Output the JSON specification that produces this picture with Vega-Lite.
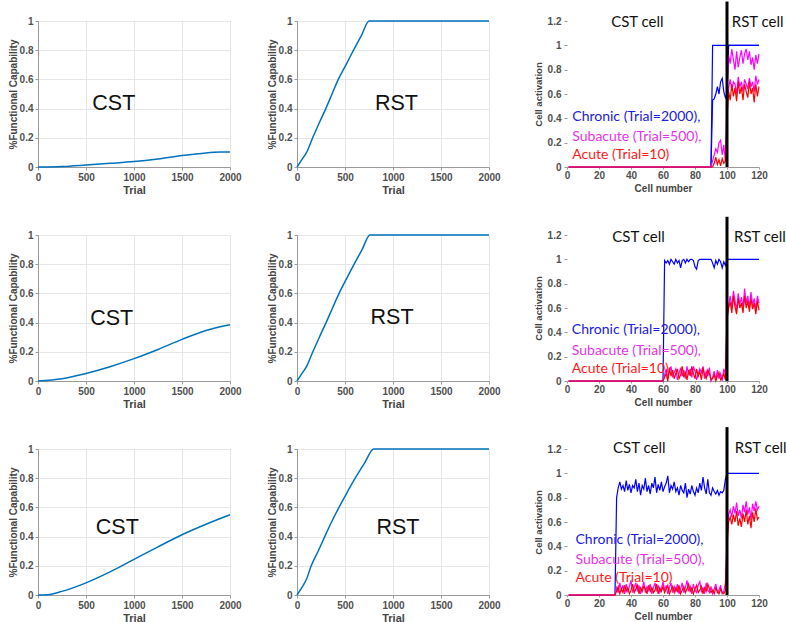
{
"$schema": "https://vega.github.io/schema/vega-lite/v6.json",
"padding": {"left": 7, "top": 0, "right": 5, "bottom": 5},
"background": "white",
"config": {
  "font": "Liberation Sans",
  "view": {"stroke": "#d4d4d4"},
  "axis": {"labelFont": "Liberation Sans", "labelFontWeight": "bold", "labelFontSize": 10, "labelColor": "#505050", "titleFont": "Liberation Sans", "titleFontWeight": "bold", "titleColor": "#444444", "domainColor": "#9a9a9a", "tickColor": "#9a9a9a", "tickSize": 3, "gridColor": "#e6e6e6", "labelPadding": 2, "labelOverlap": false, "labelFlush": false, "tickCount": 20}
},
"columns": 3,
"bounds": "flush",
"spacing": {"row": 68, "column": 67},
"datasets": {
"r1": [
{"s":"C","tr":"a","cell":1,"act":0},{"s":"C","tr":"a","cell":90,"act":0},{"s":"C","tr":"a","cell":91,"act":1},{"s":"C","tr":"a","cell":120,"act":1},
{"s":"C","tr":"b","cell":90,"act":0},{"s":"C","tr":"b","cell":91,"act":0.55},{"s":"C","tr":"b","cell":92,"act":0.56},{"s":"C","tr":"b","cell":93,"act":0.6},{"s":"C","tr":"b","cell":94,"act":0.66},{"s":"C","tr":"b","cell":95,"act":0.6},{"s":"C","tr":"b","cell":96,"act":0.7},{"s":"C","tr":"b","cell":97,"act":0.73},{"s":"C","tr":"b","cell":98,"act":0.62},{"s":"C","tr":"b","cell":99,"act":0.57},{"s":"C","tr":"b","cell":100,"act":0.6},{"s":"C","tr":"b","cell":101,"act":1},{"s":"C","tr":"b","cell":120,"act":1},
{"s":"S","tr":"a","cell":1,"act":0},{"s":"S","tr":"a","cell":90,"act":0},{"s":"S","tr":"a","cell":91,"act":0.05},{"s":"S","tr":"a","cell":92,"act":0.1},{"s":"S","tr":"a","cell":93,"act":0.15},{"s":"S","tr":"a","cell":94,"act":0.12},{"s":"S","tr":"a","cell":95,"act":0.2},{"s":"S","tr":"a","cell":96,"act":0.22},{"s":"S","tr":"a","cell":97,"act":0.1},{"s":"S","tr":"a","cell":98,"act":0.18},{"s":"S","tr":"a","cell":99,"act":0.05},{"s":"S","tr":"a","cell":100,"act":0.6},{"s":"S","tr":"a","cell":101,"act":0.92},{"s":"S","tr":"a","cell":102,"act":0.85},{"s":"S","tr":"a","cell":103,"act":0.97},{"s":"S","tr":"a","cell":104,"act":0.88},{"s":"S","tr":"a","cell":105,"act":0.8},{"s":"S","tr":"a","cell":106,"act":0.95},{"s":"S","tr":"a","cell":107,"act":0.82},{"s":"S","tr":"a","cell":108,"act":0.9},{"s":"S","tr":"a","cell":109,"act":0.96},{"s":"S","tr":"a","cell":110,"act":0.85},{"s":"S","tr":"a","cell":111,"act":0.93},{"s":"S","tr":"a","cell":112,"act":0.97},{"s":"S","tr":"a","cell":113,"act":0.88},{"s":"S","tr":"a","cell":114,"act":0.95},{"s":"S","tr":"a","cell":115,"act":0.84},{"s":"S","tr":"a","cell":116,"act":0.9},{"s":"S","tr":"a","cell":117,"act":0.8},{"s":"S","tr":"a","cell":118,"act":0.92},{"s":"S","tr":"a","cell":119,"act":0.85},{"s":"S","tr":"a","cell":120,"act":0.93},
{"s":"S","tr":"b","cell":100,"act":0.5},{"s":"S","tr":"b","cell":101,"act":0.65},{"s":"S","tr":"b","cell":102,"act":0.72},{"s":"S","tr":"b","cell":103,"act":0.63},{"s":"S","tr":"b","cell":104,"act":0.7},{"s":"S","tr":"b","cell":105,"act":0.68},{"s":"S","tr":"b","cell":106,"act":0.6},{"s":"S","tr":"b","cell":107,"act":0.74},{"s":"S","tr":"b","cell":108,"act":0.66},{"s":"S","tr":"b","cell":109,"act":0.7},{"s":"S","tr":"b","cell":110,"act":0.62},{"s":"S","tr":"b","cell":111,"act":0.72},{"s":"S","tr":"b","cell":112,"act":0.68},{"s":"S","tr":"b","cell":113,"act":0.64},{"s":"S","tr":"b","cell":114,"act":0.73},{"s":"S","tr":"b","cell":115,"act":0.66},{"s":"S","tr":"b","cell":116,"act":0.7},{"s":"S","tr":"b","cell":117,"act":0.62},{"s":"S","tr":"b","cell":118,"act":0.75},{"s":"S","tr":"b","cell":119,"act":0.68},{"s":"S","tr":"b","cell":120,"act":0.72},
{"s":"A","tr":"a","cell":1,"act":0},{"s":"A","tr":"a","cell":91,"act":0},{"s":"A","tr":"a","cell":92,"act":0.03},{"s":"A","tr":"a","cell":93,"act":0.08},{"s":"A","tr":"a","cell":94,"act":0.02},{"s":"A","tr":"a","cell":95,"act":0.06},{"s":"A","tr":"a","cell":96,"act":0.01},{"s":"A","tr":"a","cell":97,"act":0.07},{"s":"A","tr":"a","cell":98,"act":0.03},{"s":"A","tr":"a","cell":99,"act":0.05},{"s":"A","tr":"a","cell":100,"act":0.4},{"s":"A","tr":"a","cell":101,"act":0.62},{"s":"A","tr":"a","cell":102,"act":0.55},{"s":"A","tr":"a","cell":103,"act":0.68},{"s":"A","tr":"a","cell":104,"act":0.58},{"s":"A","tr":"a","cell":105,"act":0.65},{"s":"A","tr":"a","cell":106,"act":0.54},{"s":"A","tr":"a","cell":107,"act":0.7},{"s":"A","tr":"a","cell":108,"act":0.6},{"s":"A","tr":"a","cell":109,"act":0.66},{"s":"A","tr":"a","cell":110,"act":0.55},{"s":"A","tr":"a","cell":111,"act":0.68},{"s":"A","tr":"a","cell":112,"act":0.62},{"s":"A","tr":"a","cell":113,"act":0.57},{"s":"A","tr":"a","cell":114,"act":0.7},{"s":"A","tr":"a","cell":115,"act":0.6},{"s":"A","tr":"a","cell":116,"act":0.65},{"s":"A","tr":"a","cell":117,"act":0.53},{"s":"A","tr":"a","cell":118,"act":0.68},{"s":"A","tr":"a","cell":119,"act":0.58},{"s":"A","tr":"a","cell":120,"act":0.66}
],
"r2": [
{"s":"C","tr":"a","cell":1,"act":0},{"s":"C","tr":"a","cell":60,"act":0},{"s":"C","tr":"a","cell":61,"act":0.99},{"s":"C","tr":"a","cell":62,"act":0.97},{"s":"C","tr":"a","cell":63,"act":0.99},{"s":"C","tr":"a","cell":64,"act":0.96},{"s":"C","tr":"a","cell":65,"act":1},{"s":"C","tr":"a","cell":66,"act":0.98},{"s":"C","tr":"a","cell":67,"act":0.96},{"s":"C","tr":"a","cell":68,"act":1},{"s":"C","tr":"a","cell":69,"act":0.97},{"s":"C","tr":"a","cell":70,"act":0.99},{"s":"C","tr":"a","cell":71,"act":0.93},{"s":"C","tr":"a","cell":72,"act":0.99},{"s":"C","tr":"a","cell":73,"act":1},{"s":"C","tr":"a","cell":74,"act":0.97},{"s":"C","tr":"a","cell":75,"act":1},{"s":"C","tr":"a","cell":76,"act":0.98},{"s":"C","tr":"a","cell":77,"act":1},{"s":"C","tr":"a","cell":78,"act":1},{"s":"C","tr":"a","cell":79,"act":0.99},{"s":"C","tr":"a","cell":80,"act":0.94},{"s":"C","tr":"a","cell":81,"act":0.92},{"s":"C","tr":"a","cell":82,"act":0.99},{"s":"C","tr":"a","cell":83,"act":1},{"s":"C","tr":"a","cell":90,"act":1},{"s":"C","tr":"a","cell":91,"act":0.97},{"s":"C","tr":"a","cell":92,"act":0.93},{"s":"C","tr":"a","cell":93,"act":0.99},{"s":"C","tr":"a","cell":94,"act":0.96},{"s":"C","tr":"a","cell":95,"act":1},{"s":"C","tr":"a","cell":96,"act":0.98},{"s":"C","tr":"a","cell":97,"act":0.93},{"s":"C","tr":"a","cell":98,"act":0.98},{"s":"C","tr":"a","cell":99,"act":0.95},{"s":"C","tr":"a","cell":100,"act":1},{"s":"C","tr":"a","cell":120,"act":1},
{"s":"S","tr":"a","cell":1,"act":0},{"s":"S","tr":"a","cell":60,"act":0},{"s":"S","tr":"a","cell":61,"act":0.05},{"s":"S","tr":"a","cell":62,"act":0.1},{"s":"S","tr":"a","cell":63,"act":0.02},{"s":"S","tr":"a","cell":64,"act":0.08},{"s":"S","tr":"a","cell":65,"act":0.12},{"s":"S","tr":"a","cell":66,"act":0.03},{"s":"S","tr":"a","cell":67,"act":0.07},{"s":"S","tr":"a","cell":68,"act":0.1},{"s":"S","tr":"a","cell":69,"act":0.01},{"s":"S","tr":"a","cell":70,"act":0.06},{"s":"S","tr":"a","cell":71,"act":0.11},{"s":"S","tr":"a","cell":72,"act":0.04},{"s":"S","tr":"a","cell":73,"act":0.09},{"s":"S","tr":"a","cell":74,"act":0.02},{"s":"S","tr":"a","cell":75,"act":0.12},{"s":"S","tr":"a","cell":76,"act":0.06},{"s":"S","tr":"a","cell":77,"act":0.1},{"s":"S","tr":"a","cell":78,"act":0.03},{"s":"S","tr":"a","cell":79,"act":0.12},{"s":"S","tr":"a","cell":80,"act":0.08},{"s":"S","tr":"a","cell":81,"act":0.01},{"s":"S","tr":"a","cell":82,"act":0.05},{"s":"S","tr":"a","cell":83,"act":0.1},{"s":"S","tr":"a","cell":84,"act":0.07},{"s":"S","tr":"a","cell":85,"act":0.12},{"s":"S","tr":"a","cell":86,"act":0.02},{"s":"S","tr":"a","cell":87,"act":0.08},{"s":"S","tr":"a","cell":88,"act":0.04},{"s":"S","tr":"a","cell":89,"act":0.11},{"s":"S","tr":"a","cell":90,"act":0},{"s":"S","tr":"a","cell":91,"act":0.03},{"s":"S","tr":"a","cell":92,"act":0.08},{"s":"S","tr":"a","cell":93,"act":0.01},{"s":"S","tr":"a","cell":94,"act":0.09},{"s":"S","tr":"a","cell":95,"act":0.02},{"s":"S","tr":"a","cell":96,"act":0.06},{"s":"S","tr":"a","cell":97,"act":0},{"s":"S","tr":"a","cell":98,"act":0.1},{"s":"S","tr":"a","cell":99,"act":0.05},{"s":"S","tr":"a","cell":100,"act":0.55},{"s":"S","tr":"a","cell":101,"act":0.62},{"s":"S","tr":"a","cell":102,"act":0.7},{"s":"S","tr":"a","cell":103,"act":0.6},{"s":"S","tr":"a","cell":104,"act":0.74},{"s":"S","tr":"a","cell":105,"act":0.66},{"s":"S","tr":"a","cell":106,"act":0.58},{"s":"S","tr":"a","cell":107,"act":0.72},{"s":"S","tr":"a","cell":108,"act":0.63},{"s":"S","tr":"a","cell":109,"act":0.69},{"s":"S","tr":"a","cell":110,"act":0.6},{"s":"S","tr":"a","cell":111,"act":0.76},{"s":"S","tr":"a","cell":112,"act":0.64},{"s":"S","tr":"a","cell":113,"act":0.7},{"s":"S","tr":"a","cell":114,"act":0.6},{"s":"S","tr":"a","cell":115,"act":0.73},{"s":"S","tr":"a","cell":116,"act":0.62},{"s":"S","tr":"a","cell":117,"act":0.68},{"s":"S","tr":"a","cell":118,"act":0.58},{"s":"S","tr":"a","cell":119,"act":0.7},{"s":"S","tr":"a","cell":120,"act":0.64},
{"s":"A","tr":"a","cell":1,"act":0},{"s":"A","tr":"a","cell":60,"act":0},{"s":"A","tr":"a","cell":61,"act":0.03},{"s":"A","tr":"a","cell":62,"act":0.06},{"s":"A","tr":"a","cell":63,"act":0},{"s":"A","tr":"a","cell":64,"act":0.11},{"s":"A","tr":"a","cell":65,"act":0.04},{"s":"A","tr":"a","cell":66,"act":0.09},{"s":"A","tr":"a","cell":67,"act":0.02},{"s":"A","tr":"a","cell":68,"act":0.06},{"s":"A","tr":"a","cell":69,"act":0.1},{"s":"A","tr":"a","cell":70,"act":0.02},{"s":"A","tr":"a","cell":71,"act":0.05},{"s":"A","tr":"a","cell":72,"act":0.12},{"s":"A","tr":"a","cell":73,"act":0.03},{"s":"A","tr":"a","cell":74,"act":0.07},{"s":"A","tr":"a","cell":75,"act":0.01},{"s":"A","tr":"a","cell":76,"act":0.09},{"s":"A","tr":"a","cell":77,"act":0.04},{"s":"A","tr":"a","cell":78,"act":0.12},{"s":"A","tr":"a","cell":79,"act":0.06},{"s":"A","tr":"a","cell":80,"act":0.02},{"s":"A","tr":"a","cell":81,"act":0.1},{"s":"A","tr":"a","cell":82,"act":0.04},{"s":"A","tr":"a","cell":83,"act":0.08},{"s":"A","tr":"a","cell":84,"act":0.01},{"s":"A","tr":"a","cell":85,"act":0.11},{"s":"A","tr":"a","cell":86,"act":0.05},{"s":"A","tr":"a","cell":87,"act":0.02},{"s":"A","tr":"a","cell":88,"act":0.09},{"s":"A","tr":"a","cell":89,"act":0.06},{"s":"A","tr":"a","cell":90,"act":0.01},{"s":"A","tr":"a","cell":91,"act":0.02},{"s":"A","tr":"a","cell":92,"act":0.05},{"s":"A","tr":"a","cell":93,"act":0},{"s":"A","tr":"a","cell":94,"act":0.04},{"s":"A","tr":"a","cell":95,"act":0.07},{"s":"A","tr":"a","cell":96,"act":0.01},{"s":"A","tr":"a","cell":97,"act":0.03},{"s":"A","tr":"a","cell":98,"act":0.06},{"s":"A","tr":"a","cell":99,"act":0.01},{"s":"A","tr":"a","cell":100,"act":0.5},{"s":"A","tr":"a","cell":101,"act":0.6},{"s":"A","tr":"a","cell":102,"act":0.65},{"s":"A","tr":"a","cell":103,"act":0.56},{"s":"A","tr":"a","cell":104,"act":0.7},{"s":"A","tr":"a","cell":105,"act":0.61},{"s":"A","tr":"a","cell":106,"act":0.55},{"s":"A","tr":"a","cell":107,"act":0.68},{"s":"A","tr":"a","cell":108,"act":0.6},{"s":"A","tr":"a","cell":109,"act":0.64},{"s":"A","tr":"a","cell":110,"act":0.56},{"s":"A","tr":"a","cell":111,"act":0.7},{"s":"A","tr":"a","cell":112,"act":0.6},{"s":"A","tr":"a","cell":113,"act":0.66},{"s":"A","tr":"a","cell":114,"act":0.57},{"s":"A","tr":"a","cell":115,"act":0.68},{"s":"A","tr":"a","cell":116,"act":0.59},{"s":"A","tr":"a","cell":117,"act":0.64},{"s":"A","tr":"a","cell":118,"act":0.55},{"s":"A","tr":"a","cell":119,"act":0.66},{"s":"A","tr":"a","cell":120,"act":0.58}
],
"r3": [
{"s":"C","tr":"a","cell":1,"act":0},{"s":"C","tr":"a","cell":30,"act":0},{"s":"C","tr":"a","cell":31,"act":0.8},{"s":"C","tr":"a","cell":32,"act":0.88},{"s":"C","tr":"a","cell":33,"act":0.93},{"s":"C","tr":"a","cell":34,"act":0.87},{"s":"C","tr":"a","cell":35,"act":0.9},{"s":"C","tr":"a","cell":36,"act":0.85},{"s":"C","tr":"a","cell":37,"act":0.94},{"s":"C","tr":"a","cell":38,"act":0.86},{"s":"C","tr":"a","cell":39,"act":0.91},{"s":"C","tr":"a","cell":40,"act":0.84},{"s":"C","tr":"a","cell":41,"act":0.9},{"s":"C","tr":"a","cell":42,"act":0.88},{"s":"C","tr":"a","cell":43,"act":0.95},{"s":"C","tr":"a","cell":44,"act":0.85},{"s":"C","tr":"a","cell":45,"act":0.92},{"s":"C","tr":"a","cell":46,"act":0.82},{"s":"C","tr":"a","cell":47,"act":0.9},{"s":"C","tr":"a","cell":48,"act":0.87},{"s":"C","tr":"a","cell":49,"act":0.96},{"s":"C","tr":"a","cell":50,"act":0.85},{"s":"C","tr":"a","cell":51,"act":0.9},{"s":"C","tr":"a","cell":52,"act":0.83},{"s":"C","tr":"a","cell":53,"act":0.92},{"s":"C","tr":"a","cell":54,"act":0.88},{"s":"C","tr":"a","cell":55,"act":0.97},{"s":"C","tr":"a","cell":56,"act":0.84},{"s":"C","tr":"a","cell":57,"act":0.91},{"s":"C","tr":"a","cell":58,"act":0.86},{"s":"C","tr":"a","cell":59,"act":0.93},{"s":"C","tr":"a","cell":60,"act":0.85},{"s":"C","tr":"a","cell":61,"act":0.89},{"s":"C","tr":"a","cell":62,"act":0.92},{"s":"C","tr":"a","cell":63,"act":0.98},{"s":"C","tr":"a","cell":64,"act":0.84},{"s":"C","tr":"a","cell":65,"act":0.9},{"s":"C","tr":"a","cell":66,"act":0.87},{"s":"C","tr":"a","cell":67,"act":0.93},{"s":"C","tr":"a","cell":68,"act":0.85},{"s":"C","tr":"a","cell":69,"act":0.88},{"s":"C","tr":"a","cell":70,"act":0.82},{"s":"C","tr":"a","cell":71,"act":0.9},{"s":"C","tr":"a","cell":72,"act":0.86},{"s":"C","tr":"a","cell":73,"act":0.84},{"s":"C","tr":"a","cell":74,"act":0.92},{"s":"C","tr":"a","cell":75,"act":0.8},{"s":"C","tr":"a","cell":76,"act":0.87},{"s":"C","tr":"a","cell":77,"act":0.83},{"s":"C","tr":"a","cell":78,"act":0.9},{"s":"C","tr":"a","cell":79,"act":0.85},{"s":"C","tr":"a","cell":80,"act":0.82},{"s":"C","tr":"a","cell":81,"act":0.88},{"s":"C","tr":"a","cell":82,"act":0.84},{"s":"C","tr":"a","cell":83,"act":0.92},{"s":"C","tr":"a","cell":84,"act":0.86},{"s":"C","tr":"a","cell":85,"act":0.97},{"s":"C","tr":"a","cell":86,"act":0.88},{"s":"C","tr":"a","cell":87,"act":0.83},{"s":"C","tr":"a","cell":88,"act":0.95},{"s":"C","tr":"a","cell":89,"act":0.84},{"s":"C","tr":"a","cell":90,"act":0.82},{"s":"C","tr":"a","cell":91,"act":0.88},{"s":"C","tr":"a","cell":92,"act":0.85},{"s":"C","tr":"a","cell":93,"act":0.83},{"s":"C","tr":"a","cell":94,"act":0.86},{"s":"C","tr":"a","cell":95,"act":0.82},{"s":"C","tr":"a","cell":96,"act":0.85},{"s":"C","tr":"a","cell":97,"act":0.84},{"s":"C","tr":"a","cell":98,"act":0.86},{"s":"C","tr":"a","cell":99,"act":0.95},{"s":"C","tr":"a","cell":100,"act":1},{"s":"C","tr":"a","cell":120,"act":1},
{"s":"S","tr":"a","cell":1,"act":0},{"s":"S","tr":"a","cell":30,"act":0},{"s":"S","tr":"a","cell":31,"act":0.06},{"s":"S","tr":"a","cell":32,"act":0.02},{"s":"S","tr":"a","cell":33,"act":0.1},{"s":"S","tr":"a","cell":34,"act":0.04},{"s":"S","tr":"a","cell":35,"act":0.08},{"s":"S","tr":"a","cell":36,"act":0.01},{"s":"S","tr":"a","cell":37,"act":0.09},{"s":"S","tr":"a","cell":38,"act":0.03},{"s":"S","tr":"a","cell":39,"act":0.07},{"s":"S","tr":"a","cell":40,"act":0.12},{"s":"S","tr":"a","cell":41,"act":0.02},{"s":"S","tr":"a","cell":42,"act":0.06},{"s":"S","tr":"a","cell":43,"act":0.1},{"s":"S","tr":"a","cell":44,"act":0.03},{"s":"S","tr":"a","cell":45,"act":0.08},{"s":"S","tr":"a","cell":46,"act":0.01},{"s":"S","tr":"a","cell":47,"act":0.05},{"s":"S","tr":"a","cell":48,"act":0.11},{"s":"S","tr":"a","cell":49,"act":0.02},{"s":"S","tr":"a","cell":50,"act":0.07},{"s":"S","tr":"a","cell":51,"act":0.04},{"s":"S","tr":"a","cell":52,"act":0.09},{"s":"S","tr":"a","cell":53,"act":0.01},{"s":"S","tr":"a","cell":54,"act":0.06},{"s":"S","tr":"a","cell":55,"act":0.1},{"s":"S","tr":"a","cell":56,"act":0.03},{"s":"S","tr":"a","cell":57,"act":0.08},{"s":"S","tr":"a","cell":58,"act":0.02},{"s":"S","tr":"a","cell":59,"act":0.05},{"s":"S","tr":"a","cell":60,"act":0.11},{"s":"S","tr":"a","cell":61,"act":0.04},{"s":"S","tr":"a","cell":62,"act":0.08},{"s":"S","tr":"a","cell":63,"act":0.01},{"s":"S","tr":"a","cell":64,"act":0.06},{"s":"S","tr":"a","cell":65,"act":0.1},{"s":"S","tr":"a","cell":66,"act":0.02},{"s":"S","tr":"a","cell":67,"act":0.07},{"s":"S","tr":"a","cell":68,"act":0.03},{"s":"S","tr":"a","cell":69,"act":0.09},{"s":"S","tr":"a","cell":70,"act":0.01},{"s":"S","tr":"a","cell":71,"act":0.05},{"s":"S","tr":"a","cell":72,"act":0.1},{"s":"S","tr":"a","cell":73,"act":0.02},{"s":"S","tr":"a","cell":74,"act":0.06},{"s":"S","tr":"a","cell":75,"act":0.12},{"s":"S","tr":"a","cell":76,"act":0.03},{"s":"S","tr":"a","cell":77,"act":0.07},{"s":"S","tr":"a","cell":78,"act":0.01},{"s":"S","tr":"a","cell":79,"act":0.09},{"s":"S","tr":"a","cell":80,"act":0.04},{"s":"S","tr":"a","cell":81,"act":0.02},{"s":"S","tr":"a","cell":82,"act":0.08},{"s":"S","tr":"a","cell":83,"act":0.11},{"s":"S","tr":"a","cell":84,"act":0.03},{"s":"S","tr":"a","cell":85,"act":0.06},{"s":"S","tr":"a","cell":86,"act":0.01},{"s":"S","tr":"a","cell":87,"act":0.1},{"s":"S","tr":"a","cell":88,"act":0.04},{"s":"S","tr":"a","cell":89,"act":0.02},{"s":"S","tr":"a","cell":90,"act":0.07},{"s":"S","tr":"a","cell":91,"act":0.01},{"s":"S","tr":"a","cell":92,"act":0.05},{"s":"S","tr":"a","cell":93,"act":0.09},{"s":"S","tr":"a","cell":94,"act":0.02},{"s":"S","tr":"a","cell":95,"act":0.04},{"s":"S","tr":"a","cell":96,"act":0.08},{"s":"S","tr":"a","cell":97,"act":0.01},{"s":"S","tr":"a","cell":98,"act":0.03},{"s":"S","tr":"a","cell":99,"act":0.1},{"s":"S","tr":"a","cell":100,"act":0.45},{"s":"S","tr":"a","cell":101,"act":0.66},{"s":"S","tr":"a","cell":102,"act":0.7},{"s":"S","tr":"a","cell":103,"act":0.64},{"s":"S","tr":"a","cell":104,"act":0.73},{"s":"S","tr":"a","cell":105,"act":0.67},{"s":"S","tr":"a","cell":106,"act":0.76},{"s":"S","tr":"a","cell":107,"act":0.65},{"s":"S","tr":"a","cell":108,"act":0.7},{"s":"S","tr":"a","cell":109,"act":0.63},{"s":"S","tr":"a","cell":110,"act":0.74},{"s":"S","tr":"a","cell":111,"act":0.68},{"s":"S","tr":"a","cell":112,"act":0.77},{"s":"S","tr":"a","cell":113,"act":0.66},{"s":"S","tr":"a","cell":114,"act":0.72},{"s":"S","tr":"a","cell":115,"act":0.62},{"s":"S","tr":"a","cell":116,"act":0.75},{"s":"S","tr":"a","cell":117,"act":0.69},{"s":"S","tr":"a","cell":118,"act":0.77},{"s":"S","tr":"a","cell":119,"act":0.7},{"s":"S","tr":"a","cell":120,"act":0.73},
{"s":"A","tr":"a","cell":1,"act":0},{"s":"A","tr":"a","cell":30,"act":0},{"s":"A","tr":"a","cell":31,"act":0.03},{"s":"A","tr":"a","cell":32,"act":0.07},{"s":"A","tr":"a","cell":33,"act":0.01},{"s":"A","tr":"a","cell":34,"act":0.05},{"s":"A","tr":"a","cell":35,"act":0.02},{"s":"A","tr":"a","cell":36,"act":0.08},{"s":"A","tr":"a","cell":37,"act":0.03},{"s":"A","tr":"a","cell":38,"act":0.06},{"s":"A","tr":"a","cell":39,"act":0.01},{"s":"A","tr":"a","cell":40,"act":0.04},{"s":"A","tr":"a","cell":41,"act":0.09},{"s":"A","tr":"a","cell":42,"act":0.02},{"s":"A","tr":"a","cell":43,"act":0.05},{"s":"A","tr":"a","cell":44,"act":0.08},{"s":"A","tr":"a","cell":45,"act":0.01},{"s":"A","tr":"a","cell":46,"act":0.06},{"s":"A","tr":"a","cell":47,"act":0.03},{"s":"A","tr":"a","cell":48,"act":0.07},{"s":"A","tr":"a","cell":49,"act":0.05},{"s":"A","tr":"a","cell":50,"act":0.01},{"s":"A","tr":"a","cell":51,"act":0.08},{"s":"A","tr":"a","cell":52,"act":0.03},{"s":"A","tr":"a","cell":53,"act":0.06},{"s":"A","tr":"a","cell":54,"act":0.02},{"s":"A","tr":"a","cell":55,"act":0.04},{"s":"A","tr":"a","cell":56,"act":0.09},{"s":"A","tr":"a","cell":57,"act":0.01},{"s":"A","tr":"a","cell":58,"act":0.06},{"s":"A","tr":"a","cell":59,"act":0.03},{"s":"A","tr":"a","cell":60,"act":0.07},{"s":"A","tr":"a","cell":61,"act":0.02},{"s":"A","tr":"a","cell":62,"act":0.05},{"s":"A","tr":"a","cell":63,"act":0.08},{"s":"A","tr":"a","cell":64,"act":0.01},{"s":"A","tr":"a","cell":65,"act":0.04},{"s":"A","tr":"a","cell":66,"act":0.07},{"s":"A","tr":"a","cell":67,"act":0.02},{"s":"A","tr":"a","cell":68,"act":0.06},{"s":"A","tr":"a","cell":69,"act":0.03},{"s":"A","tr":"a","cell":70,"act":0.08},{"s":"A","tr":"a","cell":71,"act":0.01},{"s":"A","tr":"a","cell":72,"act":0.04},{"s":"A","tr":"a","cell":73,"act":0.07},{"s":"A","tr":"a","cell":74,"act":0.02},{"s":"A","tr":"a","cell":75,"act":0.05},{"s":"A","tr":"a","cell":76,"act":0.09},{"s":"A","tr":"a","cell":77,"act":0.03},{"s":"A","tr":"a","cell":78,"act":0.06},{"s":"A","tr":"a","cell":79,"act":0.01},{"s":"A","tr":"a","cell":80,"act":0.05},{"s":"A","tr":"a","cell":81,"act":0.08},{"s":"A","tr":"a","cell":82,"act":0.02},{"s":"A","tr":"a","cell":83,"act":0.04},{"s":"A","tr":"a","cell":84,"act":0.07},{"s":"A","tr":"a","cell":85,"act":0.01},{"s":"A","tr":"a","cell":86,"act":0.06},{"s":"A","tr":"a","cell":87,"act":0.03},{"s":"A","tr":"a","cell":88,"act":0.09},{"s":"A","tr":"a","cell":89,"act":0.05},{"s":"A","tr":"a","cell":90,"act":0.02},{"s":"A","tr":"a","cell":91,"act":0.04},{"s":"A","tr":"a","cell":92,"act":0.01},{"s":"A","tr":"a","cell":93,"act":0.06},{"s":"A","tr":"a","cell":94,"act":0.03},{"s":"A","tr":"a","cell":95,"act":0.01},{"s":"A","tr":"a","cell":96,"act":0.05},{"s":"A","tr":"a","cell":97,"act":0.02},{"s":"A","tr":"a","cell":98,"act":0.01},{"s":"A","tr":"a","cell":99,"act":0.04},{"s":"A","tr":"a","cell":100,"act":0.4},{"s":"A","tr":"a","cell":101,"act":0.6},{"s":"A","tr":"a","cell":102,"act":0.64},{"s":"A","tr":"a","cell":103,"act":0.58},{"s":"A","tr":"a","cell":104,"act":0.66},{"s":"A","tr":"a","cell":105,"act":0.6},{"s":"A","tr":"a","cell":106,"act":0.69},{"s":"A","tr":"a","cell":107,"act":0.57},{"s":"A","tr":"a","cell":108,"act":0.63},{"s":"A","tr":"a","cell":109,"act":0.56},{"s":"A","tr":"a","cell":110,"act":0.67},{"s":"A","tr":"a","cell":111,"act":0.6},{"s":"A","tr":"a","cell":112,"act":0.7},{"s":"A","tr":"a","cell":113,"act":0.58},{"s":"A","tr":"a","cell":114,"act":0.65},{"s":"A","tr":"a","cell":115,"act":0.55},{"s":"A","tr":"a","cell":116,"act":0.68},{"s":"A","tr":"a","cell":117,"act":0.6},{"s":"A","tr":"a","cell":118,"act":0.71},{"s":"A","tr":"a","cell":119,"act":0.62},{"s":"A","tr":"a","cell":120,"act":0.64}
]
},
"concat": [
{"width":192,"height":146,"layer":[
 {"data":{"values":[{"trial":0,"fc":0},{"trial":250,"fc":0.004},{"trial":500,"fc":0.014},{"trial":750,"fc":0.025},{"trial":1000,"fc":0.037},{"trial":1250,"fc":0.055},{"trial":1500,"fc":0.078},{"trial":1750,"fc":0.096},{"trial":1900,"fc":0.102},{"trial":2000,"fc":0.103}]},
  "mark":{"type":"line","color":"#0072BD","strokeWidth":1.5,"interpolate":"monotone"},
  "encoding":{"x":{"field":"trial","type":"quantitative","scale":{"domain":[0,2000]},"axis":{"title":"Trial","values":[0,500,1000,1500,2000],"format":"d","grid":true,"titleFontSize":11,"titlePadding":2}},
   "y":{"field":"fc","type":"quantitative","scale":{"domain":[0,1]},"axis":{"title":"%Functional Capability","values":[0,0.2,0.4,0.6,0.8,1],"format":"~g","grid":true,"titleFontSize":10,"titlePadding":1}}}},
 {"data":{"values":[{}]},"mark":{"type":"text","fontSize":21.5,"font":"Liberation Sans","color":"#111111"},"encoding":{"x":{"datum":790},"y":{"datum":0.43},"text":{"value":"CST"}}}
]},
{"width":192,"height":146,"layer":[
 {"data":{"values":[{"trial":0,"fc":0},{"trial":50,"fc":0.05},{"trial":100,"fc":0.1},{"trial":163,"fc":0.2},{"trial":230,"fc":0.3},{"trial":300,"fc":0.4},{"trial":365,"fc":0.5},{"trial":430,"fc":0.6},{"trial":510,"fc":0.7},{"trial":589,"fc":0.8},{"trial":670,"fc":0.9},{"trial":752,"fc":1},{"trial":2000,"fc":1}]},
  "mark":{"type":"line","color":"#0072BD","strokeWidth":1.5,"interpolate":"monotone"},
  "encoding":{"x":{"field":"trial","type":"quantitative","scale":{"domain":[0,2000]},"axis":{"title":"Trial","values":[0,500,1000,1500,2000],"format":"d","grid":true,"titleFontSize":11,"titlePadding":2}},
   "y":{"field":"fc","type":"quantitative","scale":{"domain":[0,1]},"axis":{"title":"%Functional Capability","values":[0,0.2,0.4,0.6,0.8,1],"format":"~g","grid":true,"titleFontSize":10,"titlePadding":1}}}},
 {"data":{"values":[{}]},"mark":{"type":"text","fontSize":21.5,"font":"Liberation Sans","color":"#111111"},"encoding":{"x":{"datum":1036},"y":{"datum":0.43},"text":{"value":"RST"}}}
]},
{"width":203,"height":146,"view":{"stroke":null},"layer":[
 {"data":{"name":"r1"},"transform":[{"filter":"datum.s == 'C'"}],"mark":{"type":"line","color":"#0000ff","strokeWidth":1.2},
  "encoding":{"x":{"field":"cell","type":"quantitative","scale":{"domain":[0,120],"range":[11,203]},"axis":{"title":"Cell number","values":[0,20,40,60,80,100,120],"grid":false,"domain":true,"titleFontSize":10,"titlePadding":3,"labelPadding":1,"tickSize":2}},
   "y":{"field":"act","type":"quantitative","scale":{"domain":[0,1.2]},"axis":{"title":"Cell activation","values":[0,0.2,0.4,0.6,0.8,1,1.2],"format":"~g","grid":false,"domain":false,"offset":-11,"titleFontSize":9.5,"titlePadding":4,"labelPadding":3}},
   "detail":{"field":"tr"}}},
 {"data":{"name":"r1"},"transform":[{"filter":"datum.s == 'S'"}],"mark":{"type":"line","color":"#ff00ff","strokeWidth":1.2},"encoding":{"x":{"field":"cell","type":"quantitative"},"y":{"field":"act","type":"quantitative"},"detail":{"field":"tr"}}},
 {"data":{"name":"r1"},"transform":[{"filter":"datum.s == 'A'"}],"mark":{"type":"line","color":"#ff0000","strokeWidth":1.2},"encoding":{"x":{"field":"cell","type":"quantitative"},"y":{"field":"act","type":"quantitative"},"detail":{"field":"tr"}}},
 {"data":{"values":[{}]},"mark":{"type":"rule","color":"#000000","strokeWidth":3},"encoding":{"x":{"datum":100},"y":{"datum":0},"y2":{"datum":1.36}}},
 {"data":{"values":[{}]},"mark":{"type":"text","font":"Lato","fontSize":15,"color":"#111111"},"encoding":{"x":{"datum":44},"y":{"datum":1.19},"text":{"value":"CST cell"}}},
 {"data":{"values":[{}]},"mark":{"type":"text","font":"Lato","fontSize":15,"color":"#111111","align":"left"},"encoding":{"x":{"datum":103},"y":{"datum":1.19},"text":{"value":"RST cell"}}},
 {"data":{"values":[{}]},"mark":{"type":"text","font":"Lato","fontSize":14,"color":"#2020e0","align":"left"},"encoding":{"x":{"datum":3.3},"y":{"datum":0.41},"text":{"value":"Chronic (Trial=2000),"}}},
 {"data":{"values":[{}]},"mark":{"type":"text","font":"Lato","fontSize":14,"color":"#e633e6","align":"left"},"encoding":{"x":{"datum":3.3},"y":{"datum":0.246},"text":{"value":"Subacute (Trial=500),"}}},
 {"data":{"values":[{}]},"mark":{"type":"text","font":"Lato","fontSize":14,"color":"#ff1a1a","align":"left"},"encoding":{"x":{"datum":3.3},"y":{"datum":0.1},"text":{"value":"Acute (Trial=10)"}}}
]},
{"width":192,"height":146,"layer":[
 {"data":{"values":[{"trial":0,"fc":0},{"trial":250,"fc":0.016},{"trial":500,"fc":0.052},{"trial":750,"fc":0.098},{"trial":1000,"fc":0.153},{"trial":1250,"fc":0.216},{"trial":1500,"fc":0.285},{"trial":1750,"fc":0.346},{"trial":2000,"fc":0.385}]},
  "mark":{"type":"line","color":"#0072BD","strokeWidth":1.5,"interpolate":"monotone"},
  "encoding":{"x":{"field":"trial","type":"quantitative","scale":{"domain":[0,2000]},"axis":{"title":"Trial","values":[0,500,1000,1500,2000],"format":"d","grid":true,"titleFontSize":11,"titlePadding":2}},
   "y":{"field":"fc","type":"quantitative","scale":{"domain":[0,1]},"axis":{"title":"%Functional Capability","values":[0,0.2,0.4,0.6,0.8,1],"format":"~g","grid":true,"titleFontSize":10,"titlePadding":1}}}},
 {"data":{"values":[{}]},"mark":{"type":"text","fontSize":21.5,"font":"Liberation Sans","color":"#111111"},"encoding":{"x":{"datum":768},"y":{"datum":0.427},"text":{"value":"CST"}}}
]},
{"width":192,"height":146,"layer":[
 {"data":{"values":[{"trial":0,"fc":0},{"trial":50,"fc":0.05},{"trial":100,"fc":0.1},{"trial":165,"fc":0.2},{"trial":233,"fc":0.3},{"trial":303,"fc":0.4},{"trial":370,"fc":0.5},{"trial":438,"fc":0.6},{"trial":515,"fc":0.7},{"trial":595,"fc":0.8},{"trial":678,"fc":0.9},{"trial":760,"fc":1},{"trial":2000,"fc":1}]},
  "mark":{"type":"line","color":"#0072BD","strokeWidth":1.5,"interpolate":"monotone"},
  "encoding":{"x":{"field":"trial","type":"quantitative","scale":{"domain":[0,2000]},"axis":{"title":"Trial","values":[0,500,1000,1500,2000],"format":"d","grid":true,"titleFontSize":11,"titlePadding":2}},
   "y":{"field":"fc","type":"quantitative","scale":{"domain":[0,1]},"axis":{"title":"%Functional Capability","values":[0,0.2,0.4,0.6,0.8,1],"format":"~g","grid":true,"titleFontSize":10,"titlePadding":1}}}},
 {"data":{"values":[{}]},"mark":{"type":"text","fontSize":21.5,"font":"Liberation Sans","color":"#111111"},"encoding":{"x":{"datum":990},"y":{"datum":0.43},"text":{"value":"RST"}}}
]},
{"width":203,"height":146,"view":{"stroke":null},"layer":[
 {"data":{"name":"r2"},"transform":[{"filter":"datum.s == 'C'"}],"mark":{"type":"line","color":"#0000ff","strokeWidth":1.2},
  "encoding":{"x":{"field":"cell","type":"quantitative","scale":{"domain":[0,120],"range":[11,203]},"axis":{"title":"Cell number","values":[0,20,40,60,80,100,120],"grid":false,"domain":true,"titleFontSize":10,"titlePadding":3,"labelPadding":1,"tickSize":2}},
   "y":{"field":"act","type":"quantitative","scale":{"domain":[0,1.2]},"axis":{"title":"Cell activation","values":[0,0.2,0.4,0.6,0.8,1,1.2],"format":"~g","grid":false,"domain":false,"offset":-11,"titleFontSize":9.5,"titlePadding":4,"labelPadding":3}},
   "detail":{"field":"tr"}}},
 {"data":{"name":"r2"},"transform":[{"filter":"datum.s == 'S'"}],"mark":{"type":"line","color":"#ff00ff","strokeWidth":1.2},"encoding":{"x":{"field":"cell","type":"quantitative"},"y":{"field":"act","type":"quantitative"},"detail":{"field":"tr"}}},
 {"data":{"name":"r2"},"transform":[{"filter":"datum.s == 'A'"}],"mark":{"type":"line","color":"#ff0000","strokeWidth":1.2},"encoding":{"x":{"field":"cell","type":"quantitative"},"y":{"field":"act","type":"quantitative"},"detail":{"field":"tr"}}},
 {"data":{"values":[{}]},"mark":{"type":"rule","color":"#000000","strokeWidth":3},"encoding":{"x":{"datum":100},"y":{"datum":0},"y2":{"datum":1.35}}},
 {"data":{"values":[{}]},"mark":{"type":"text","font":"Lato","fontSize":15,"color":"#111111"},"encoding":{"x":{"datum":44.7},"y":{"datum":1.183},"text":{"value":"CST cell"}}},
 {"data":{"values":[{}]},"mark":{"type":"text","font":"Lato","fontSize":15,"color":"#111111","align":"left"},"encoding":{"x":{"datum":104.4},"y":{"datum":1.183},"text":{"value":"RST cell"}}},
 {"data":{"values":[{}]},"mark":{"type":"text","font":"Lato","fontSize":14,"color":"#2020e0","align":"left"},"encoding":{"x":{"datum":3},"y":{"datum":0.417},"text":{"value":"Chronic (Trial=2000),"}}},
 {"data":{"values":[{}]},"mark":{"type":"text","font":"Lato","fontSize":14,"color":"#e633e6","align":"left"},"encoding":{"x":{"datum":3},"y":{"datum":0.25},"text":{"value":"Subacute (Trial=500),"}}},
 {"data":{"values":[{}]},"mark":{"type":"text","font":"Lato","fontSize":14,"color":"#ff1a1a","align":"left"},"encoding":{"x":{"datum":3},"y":{"datum":0.096},"text":{"value":"Acute (Trial=10)"}}}
]},
{"width":192,"height":146,"layer":[
 {"data":{"values":[{"trial":0,"fc":0},{"trial":100,"fc":0.002},{"trial":250,"fc":0.025},{"trial":500,"fc":0.083},{"trial":750,"fc":0.158},{"trial":1000,"fc":0.244},{"trial":1250,"fc":0.33},{"trial":1500,"fc":0.413},{"trial":1750,"fc":0.485},{"trial":2000,"fc":0.55}]},
  "mark":{"type":"line","color":"#0072BD","strokeWidth":1.5,"interpolate":"monotone"},
  "encoding":{"x":{"field":"trial","type":"quantitative","scale":{"domain":[0,2000]},"axis":{"title":"Trial","values":[0,500,1000,1500,2000],"format":"d","grid":true,"titleFontSize":11,"titlePadding":2}},
   "y":{"field":"fc","type":"quantitative","scale":{"domain":[0,1]},"axis":{"title":"%Functional Capability","values":[0,0.2,0.4,0.6,0.8,1],"format":"~g","grid":true,"titleFontSize":10,"titlePadding":1}}}},
 {"data":{"values":[{}]},"mark":{"type":"text","fontSize":21.5,"font":"Liberation Sans","color":"#111111"},"encoding":{"x":{"datum":826},"y":{"datum":0.456},"text":{"value":"CST"}}}
]},
{"width":192,"height":146,"layer":[
 {"data":{"values":[{"trial":0,"fc":0},{"trial":50,"fc":0.05},{"trial":100,"fc":0.11},{"trial":148,"fc":0.2},{"trial":220,"fc":0.3},{"trial":289,"fc":0.4},{"trial":360,"fc":0.5},{"trial":437,"fc":0.6},{"trial":520,"fc":0.7},{"trial":606,"fc":0.8},{"trial":700,"fc":0.9},{"trial":800,"fc":1},{"trial":2000,"fc":1}]},
  "mark":{"type":"line","color":"#0072BD","strokeWidth":1.5,"interpolate":"monotone"},
  "encoding":{"x":{"field":"trial","type":"quantitative","scale":{"domain":[0,2000]},"axis":{"title":"Trial","values":[0,500,1000,1500,2000],"format":"d","grid":true,"titleFontSize":11,"titlePadding":2}},
   "y":{"field":"fc","type":"quantitative","scale":{"domain":[0,1]},"axis":{"title":"%Functional Capability","values":[0,0.2,0.4,0.6,0.8,1],"format":"~g","grid":true,"titleFontSize":10,"titlePadding":1}}}},
 {"data":{"values":[{}]},"mark":{"type":"text","fontSize":21.5,"font":"Liberation Sans","color":"#111111"},"encoding":{"x":{"datum":1052},"y":{"datum":0.456},"text":{"value":"RST"}}}
]},
{"width":203,"height":146,"view":{"stroke":null},"layer":[
 {"data":{"name":"r3"},"transform":[{"filter":"datum.s == 'C'"}],"mark":{"type":"line","color":"#0000ff","strokeWidth":1.2},
  "encoding":{"x":{"field":"cell","type":"quantitative","scale":{"domain":[0,120],"range":[11,203]},"axis":{"title":"Cell number","values":[0,20,40,60,80,100,120],"grid":false,"domain":true,"titleFontSize":10,"titlePadding":3,"labelPadding":1,"tickSize":2}},
   "y":{"field":"act","type":"quantitative","scale":{"domain":[0,1.2]},"axis":{"title":"Cell activation","values":[0,0.2,0.4,0.6,0.8,1,1.2],"format":"~g","grid":false,"domain":false,"offset":-11,"titleFontSize":9.5,"titlePadding":4,"labelPadding":3}},
   "detail":{"field":"tr"}}},
 {"data":{"name":"r3"},"transform":[{"filter":"datum.s == 'S'"}],"mark":{"type":"line","color":"#ff00ff","strokeWidth":1.2},"encoding":{"x":{"field":"cell","type":"quantitative"},"y":{"field":"act","type":"quantitative"},"detail":{"field":"tr"}}},
 {"data":{"name":"r3"},"transform":[{"filter":"datum.s == 'A'"}],"mark":{"type":"line","color":"#ff0000","strokeWidth":1.2},"encoding":{"x":{"field":"cell","type":"quantitative"},"y":{"field":"act","type":"quantitative"},"detail":{"field":"tr"}}},
 {"data":{"values":[{}]},"mark":{"type":"rule","color":"#000000","strokeWidth":3},"encoding":{"x":{"datum":100},"y":{"datum":0},"y2":{"datum":1.38}}},
 {"data":{"values":[{}]},"mark":{"type":"text","font":"Lato","fontSize":15,"color":"#111111"},"encoding":{"x":{"datum":45.2},"y":{"datum":1.21},"text":{"value":"CST cell"}}},
 {"data":{"values":[{}]},"mark":{"type":"text","font":"Lato","fontSize":15,"color":"#111111","align":"left"},"encoding":{"x":{"datum":104.9},"y":{"datum":1.21},"text":{"value":"RST cell"}}},
 {"data":{"values":[{}]},"mark":{"type":"text","font":"Lato","fontSize":14,"color":"#2020e0","align":"left"},"encoding":{"x":{"datum":5.3},"y":{"datum":0.453},"text":{"value":"Chronic (Trial=2000),"}}},
 {"data":{"values":[{}]},"mark":{"type":"text","font":"Lato","fontSize":14,"color":"#e633e6","align":"left"},"encoding":{"x":{"datum":5.3},"y":{"datum":0.29},"text":{"value":"Subacute (Trial=500),"}}},
 {"data":{"values":[{}]},"mark":{"type":"text","font":"Lato","fontSize":14,"color":"#ff1a1a","align":"left"},"encoding":{"x":{"datum":5.3},"y":{"datum":0.14},"text":{"value":"Acute (Trial=10)"}}}
]}
]
}
